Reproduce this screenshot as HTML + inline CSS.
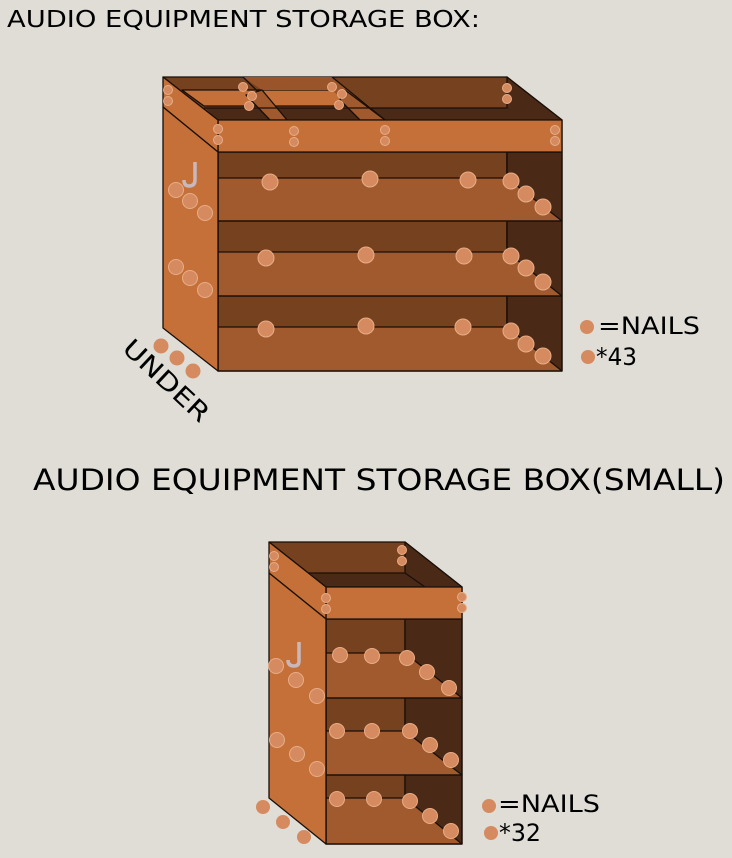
<!DOCTYPE html>
<html><head><style>html,body{margin:0;padding:0;background:#dfddd6;}svg{display:block}</style></head><body>
<svg width="732" height="858" viewBox="0 0 732 858" xmlns="http://www.w3.org/2000/svg" font-family="DejaVu Sans, Liberation Sans, sans-serif">
<rect width="732" height="858" fill="#dfddd6"/>
<text x="7" y="27" font-size="23" textLength="473" lengthAdjust="spacingAndGlyphs" fill="#000">AUDIO EQUIPMENT STORAGE BOX:</text>
<text x="33" y="490" font-size="29" textLength="692" lengthAdjust="spacingAndGlyphs" fill="#000">AUDIO EQUIPMENT STORAGE BOX(SMALL)</text>

<g stroke="#1a0f08" stroke-width="1.3" stroke-linejoin="round">
<!-- BIG BOX -->
<polygon points="163,77 507,77 562,120 218,120" fill="#75411f"/>
<polygon points="507,77 562,120 562,152 507,108" fill="#4a2a17"/>
<polygon points="205,108 507,108 530,120 218,120" fill="#4a2a17" stroke="none"/>
<polygon points="182,90 345,90 352,106 204,106" fill="#c47038"/>
<polygon points="243,77 332,77 372,108 352,108 332,90 262,90" fill="#9a5429" stroke="none"/>
<line x1="243" y1="77" x2="287" y2="120"/>
<line x1="332" y1="77" x2="385" y2="120"/>
<polygon points="262,90 287,120 270,120 246,95" fill="#a05a2d"/>
<polygon points="345,90 385,120 360,120 340,100" fill="#a05a2d"/>
<line x1="204" y1="108" x2="507" y2="108"/>
<rect x="218" y="152" width="289" height="219" fill="#75411f"/>
<rect x="507" y="152" width="55" height="219" fill="#4a2a17"/>
<polygon points="218,178 507,178 562,221 218,221" fill="#a05a2d"/>
<polygon points="218,252 507,252 562,296 218,296" fill="#a05a2d"/>
<polygon points="218,327 507,327 562,371 218,371" fill="#a05a2d"/>
<line x1="218" y1="221" x2="562" y2="221"/>
<line x1="218" y1="296" x2="562" y2="296"/>
<line x1="507" y1="152" x2="507" y2="178"/>
<line x1="507" y1="221" x2="507" y2="252"/>
<line x1="507" y1="296" x2="507" y2="327"/>
<rect x="218" y="152" width="344" height="219" fill="none"/>
<rect x="218" y="120" width="344" height="32" fill="#c47038"/>
<polygon points="163,77 218,120 218,152 163,107" fill="#c47038"/>
<polygon points="163,107 218,152 218,371 163,328" fill="#c47038"/>

<!-- SMALL BOX -->
<polygon points="269,542 405,542 462,587 326,587" fill="#75411f"/>
<polygon points="405,542 462,587 462,619 405,573" fill="#4a2a17"/>
<polygon points="308,573 405,573 425,587 326,587" fill="#4a2a17"/>
<rect x="326" y="619" width="79" height="225" fill="#75411f"/>
<rect x="405" y="619" width="57" height="225" fill="#4a2a17"/>
<polygon points="326,653 405,653 462,698 326,698" fill="#a05a2d"/>
<polygon points="326,731 405,731 462,775 326,775" fill="#a05a2d"/>
<polygon points="326,798 405,798 462,844 326,844" fill="#a05a2d"/>
<line x1="326" y1="698" x2="462" y2="698"/>
<line x1="326" y1="775" x2="462" y2="775"/>
<rect x="326" y="619" width="136" height="225" fill="none"/>
<rect x="326" y="587" width="136" height="32" fill="#c47038"/>
<polygon points="269,542 326,587 326,619 269,573" fill="#c47038"/>
<polygon points="269,573 326,619 326,844 269,798" fill="#c47038"/>
</g>

<g fill="#d58b5f" stroke="#e8ad88" stroke-width="1">
<circle cx="168" cy="90" r="4.5"/><circle cx="168" cy="101" r="4.5"/>
<circle cx="243" cy="87" r="4.5"/><circle cx="252" cy="96" r="4.5"/><circle cx="249" cy="106" r="4.5"/>
<circle cx="332" cy="87" r="4.5"/><circle cx="342" cy="94" r="4.5"/><circle cx="339" cy="105" r="4.5"/>
<circle cx="507" cy="88" r="4.5"/><circle cx="507" cy="99" r="4.5"/>
<circle cx="218" cy="129" r="4.5"/><circle cx="218" cy="140" r="4.5"/>
<circle cx="294" cy="131" r="4.5"/><circle cx="294" cy="142" r="4.5"/>
<circle cx="385" cy="130" r="4.5"/><circle cx="385" cy="141" r="4.5"/>
<circle cx="555" cy="130" r="4.5"/><circle cx="555" cy="141" r="4.5"/>
<circle cx="270" cy="182" r="8"/><circle cx="370" cy="179" r="8"/><circle cx="468" cy="180" r="8"/><circle cx="511" cy="181" r="8"/><circle cx="526" cy="194" r="8"/><circle cx="543" cy="207" r="8"/>
<circle cx="266" cy="258" r="8"/><circle cx="366" cy="255" r="8"/><circle cx="464" cy="256" r="8"/><circle cx="511" cy="256" r="8"/><circle cx="526" cy="268" r="8"/><circle cx="543" cy="282" r="8"/>
<circle cx="266" cy="329" r="8"/><circle cx="366" cy="326" r="8"/><circle cx="463" cy="327" r="8"/><circle cx="511" cy="331" r="8"/><circle cx="526" cy="344" r="8"/><circle cx="543" cy="356" r="8"/>
<circle cx="176" cy="190" r="7.5"/><circle cx="190" cy="201" r="7.5"/><circle cx="205" cy="213" r="7.5"/>
<circle cx="176" cy="267" r="7.5"/><circle cx="190" cy="278" r="7.5"/><circle cx="205" cy="290" r="7.5"/>
<circle cx="161" cy="346" r="7.5" stroke="none"/><circle cx="177" cy="358" r="7.5" stroke="none"/><circle cx="193" cy="371" r="7.5" stroke="none"/>
<circle cx="587" cy="327" r="7" stroke="none"/><circle cx="588" cy="357" r="7" stroke="none"/>
<circle cx="274" cy="556" r="4.5"/><circle cx="274" cy="567" r="4.5"/>
<circle cx="402" cy="550" r="4.5"/><circle cx="402" cy="561" r="4.5"/>
<circle cx="326" cy="598" r="4.5"/><circle cx="326" cy="609" r="4.5"/>
<circle cx="462" cy="597" r="4.5"/><circle cx="462" cy="608" r="4.5"/>
<circle cx="340" cy="655" r="7.5"/><circle cx="372" cy="656" r="7.5"/><circle cx="407" cy="658" r="7.5"/><circle cx="427" cy="672" r="7.5"/><circle cx="449" cy="688" r="7.5"/>
<circle cx="337" cy="731" r="7.5"/><circle cx="372" cy="731" r="7.5"/><circle cx="410" cy="731" r="7.5"/><circle cx="430" cy="745" r="7.5"/><circle cx="451" cy="760" r="7.5"/>
<circle cx="337" cy="799" r="7.5"/><circle cx="374" cy="799" r="7.5"/><circle cx="410" cy="801" r="7.5"/><circle cx="430" cy="816" r="7.5"/><circle cx="451" cy="831" r="7.5"/>
<circle cx="276" cy="666" r="7.5"/><circle cx="296" cy="680" r="7.5"/><circle cx="317" cy="696" r="7.5"/>
<circle cx="277" cy="740" r="7.5"/><circle cx="297" cy="754" r="7.5"/><circle cx="317" cy="769" r="7.5"/>
<circle cx="263" cy="807" r="7" stroke="none"/><circle cx="283" cy="822" r="7" stroke="none"/><circle cx="304" cy="837" r="7" stroke="none"/>
<circle cx="489" cy="806" r="7" stroke="none"/><circle cx="491" cy="833" r="7" stroke="none"/>
</g>
<path d="M195,162 L195,180 Q195,186 189,186 Q184,186 184,180" fill="none" stroke="#c8b8bc" stroke-width="3.5"/>
<path d="M299,642 L299,661 Q299,666 294,666 Q288,666 288,660" fill="none" stroke="#c8b8bc" stroke-width="3.5"/>

<text font-size="25" fill="#000" transform="translate(121,350) rotate(43)" textLength="108" lengthAdjust="spacingAndGlyphs">UNDER</text>
<text x="598" y="334" font-size="24" fill="#000" textLength="102" lengthAdjust="spacingAndGlyphs">=NAILS</text>
<text x="596" y="365" font-size="24" fill="#000" textLength="41" lengthAdjust="spacingAndGlyphs">*43</text>
<text x="498" y="812" font-size="24" fill="#000" textLength="102" lengthAdjust="spacingAndGlyphs">=NAILS</text>
<text x="499" y="841" font-size="24" fill="#000" textLength="42" lengthAdjust="spacingAndGlyphs">*32</text>
</svg>
</body></html>
